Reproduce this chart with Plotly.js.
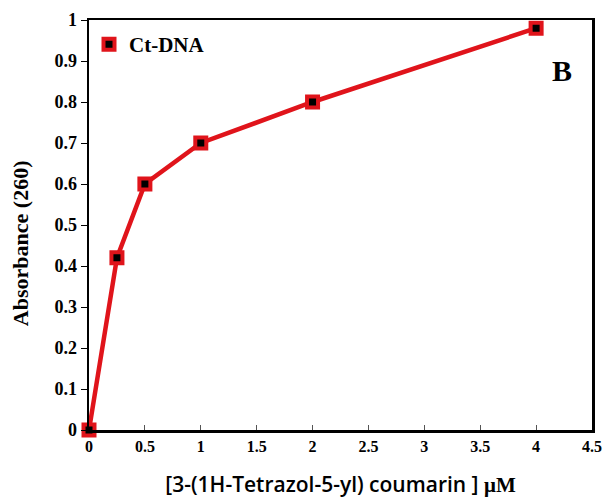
<!DOCTYPE html>
<html>
<head>
<meta charset="utf-8">
<script src="https://cdn.plot.ly/plotly-3.0.1.min.js"></script>
<style>html,body{margin:0;padding:0;background:#fff;}#chart{width:603px;height:498px;}</style>
</head>
<body>
<div id="chart"></div>
<script>
const concentration = [0, 0.25, 0.5, 1, 2, 4];
const absorbance = [0, 0.42, 0.6, 0.7, 0.8, 0.98];
const seriesName = "Ct-DNA";
const xTicks = [0, 0.5, 1, 1.5, 2, 2.5, 3, 3.5, 4, 4.5];
const yTicks = [0, 0.1, 0.2, 0.3, 0.4, 0.5, 0.6, 0.7, 0.8, 0.9, 1];

const serif = "Liberation Serif, Times New Roman, serif";
const markerStyle = {symbol: "square", size: 11, color: "#000", line: {color: "#e0141b", width: 4}};

const traces = [
  {x: concentration, y: absorbance, mode: "lines+markers", showlegend: false,
   line: {color: "#e0141b", width: 4.5}, marker: markerStyle, cliponaxis: false},
  {x: [null], y: [null], mode: "markers", name: seriesName, marker: markerStyle}
];

const layout = {
  width: 603, height: 498,
  margin: {l: 89, r: 11, t: 20, b: 68},
  paper_bgcolor: "#fff", plot_bgcolor: "#fff",
  font: {family: serif, color: "#000"},
  xaxis: {
    range: [0, 4.5], tickvals: xTicks, ticktext: xTicks.map(String),
    ticks: "inside", ticklen: 5, tickwidth: 1, tickcolor: "#555",
    showline: true, linecolor: "#000", linewidth: 2.5, mirror: true,
    showgrid: false, zeroline: false,
    tickfont: {family: serif, size: 16, color: "#000", weight: "bold"},
    title: {text: "[3-(1H-Tetrazol-5-yl) coumarin ] <span style=\"font-family:Liberation Serif\">μM</span>",
            font: {family: "Open Sans, sans-serif", size: 21, color: "#000", weight: 600}, standoff: 26}
  },
  yaxis: {
    range: [0, 1], tickvals: yTicks, ticktext: yTicks.map(String),
    ticks: "outside", ticklen: 6, tickwidth: 1, tickcolor: "#000",
    showline: true, linecolor: "#000", linewidth: 2.5, mirror: true,
    showgrid: false, zeroline: false,
    tickfont: {family: serif, size: 18, color: "#000", weight: "bold"}
  },
  legend: {x: 0.0, y: 0.99, xanchor: "left", yanchor: "top", bgcolor: "rgba(0,0,0,0)",
           font: {family: serif, size: 21, color: "#000", weight: "bold"}},
  annotations: [
    {text: "Absorbance (260)", textangle: -90, xref: "paper", yref: "paper", x: -0.137, y: 0.456,
     xanchor: "center", yanchor: "middle",
     showarrow: false, font: {family: serif, size: 22, color: "#000", weight: "bold"}},
    {text: "B", xref: "paper", yref: "paper", x: 0.94, y: 0.878, xanchor: "center", yanchor: "middle",
     showarrow: false, font: {family: serif, size: 30, color: "#000", weight: "bold"}}
  ]
};

Plotly.newPlot("chart", traces, layout, {displayModeBar: false, staticPlot: true});
</script>
</body>
</html>
